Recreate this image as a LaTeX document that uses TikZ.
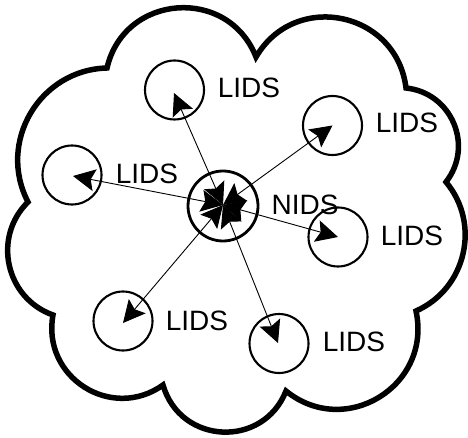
\documentclass[tikz,border=0pt]{standalone}
\usepackage{fontspec}
\setmainfont{Liberation Sans}
\usetikzlibrary{arrows.meta}
\begin{document}
\begin{tikzpicture}[x=1pt,y=-1pt,
  cloudline/.style={line width=5.5pt,line join=miter},
  lids/.style={circle,draw,line width=2.1pt,minimum size=59pt,inner sep=0pt},
  nids/.style={circle,draw,line width=2.8pt,minimum size=70pt,inner sep=0pt},
  lbl/.style={inner sep=0pt,font=\fontsize{28}{32}\selectfont},
  link/.style={line width=0.9pt,{Stealth[length=22pt,width=22pt,inset=4pt]}-{Stealth[length=22pt,width=22pt,inset=4pt]}}]
\useasboundingbox (0,0) rectangle (468,438);

% cloud outline, cusp to cusp
\coordinate (cA) at (256,57);
\coordinate (cB) at (406,88);
\coordinate (cC) at (446,182);
\coordinate (cD) at (416,311);
\coordinate (cE) at (286,391);
\coordinate (cF) at (163,385);
\coordinate (cG) at (53,315);
\coordinate (cH) at (28,202);
\coordinate (cI) at (107,68);
\draw[cloudline]
  (cI) to[bend left=72.8,looseness=1.31] (cA)
       to[bend left=71.4,looseness=1.29] (cB)
       to[bend left=61,looseness=1.15] (cC)
       to[bend left=53,looseness=1.06] (cD)
       to[bend left=70.6,looseness=1.28] (cE)
       to[bend left=71.2,looseness=1.29] (cF)
       to[bend left=68,looseness=1.24] (cG)
       to[bend left=58,looseness=1.11] (cH)
       to[bend left=58,looseness=1.11] (cI) -- cycle;

% central sensor
\node[nids] (n) at (223,206) {};
\coordinate (nc) at (223,205);

% local sensors
\node[lids] (l1) at (174.5,90) {};
\node[lids] (l2) at (332.5,125.5) {};
\node[lids] (l3) at (72,175) {};
\node[lids] (l4) at (338,237) {};
\node[lids] (l5) at (123,321) {};
\node[lids] (l6) at (279,343.5) {};

% labels
\node[lbl] (tn) at (305,205) {NIDS};
\node[lbl] (t1) at (249,88) {LIDS};
\node[lbl] (t2) at (407,123) {LIDS};
\node[lbl] (t3) at (147,174) {LIDS};
\node[lbl] (t4) at (412,236) {LIDS};
\node[lbl] (t5) at (197,321) {LIDS};
\node[lbl] (t6) at (354,342) {LIDS};

% arrow tips end near the centres of the local sensors
\coordinate (e1) at (174,93);
\coordinate (e3) at (73,176);
\coordinate (e5) at (123,323);
\coordinate (e6) at (278,343);

% links
\draw[link] (nc) -- (e1);
\draw[link] (nc) -- (l2.center);
\draw[link] (nc) -- (e3);
\draw[link] (nc) -- (l4.center);
\draw[link] (nc) -- (e5);
\draw[link] (nc) -- (e6);
\end{tikzpicture}
\end{document}
